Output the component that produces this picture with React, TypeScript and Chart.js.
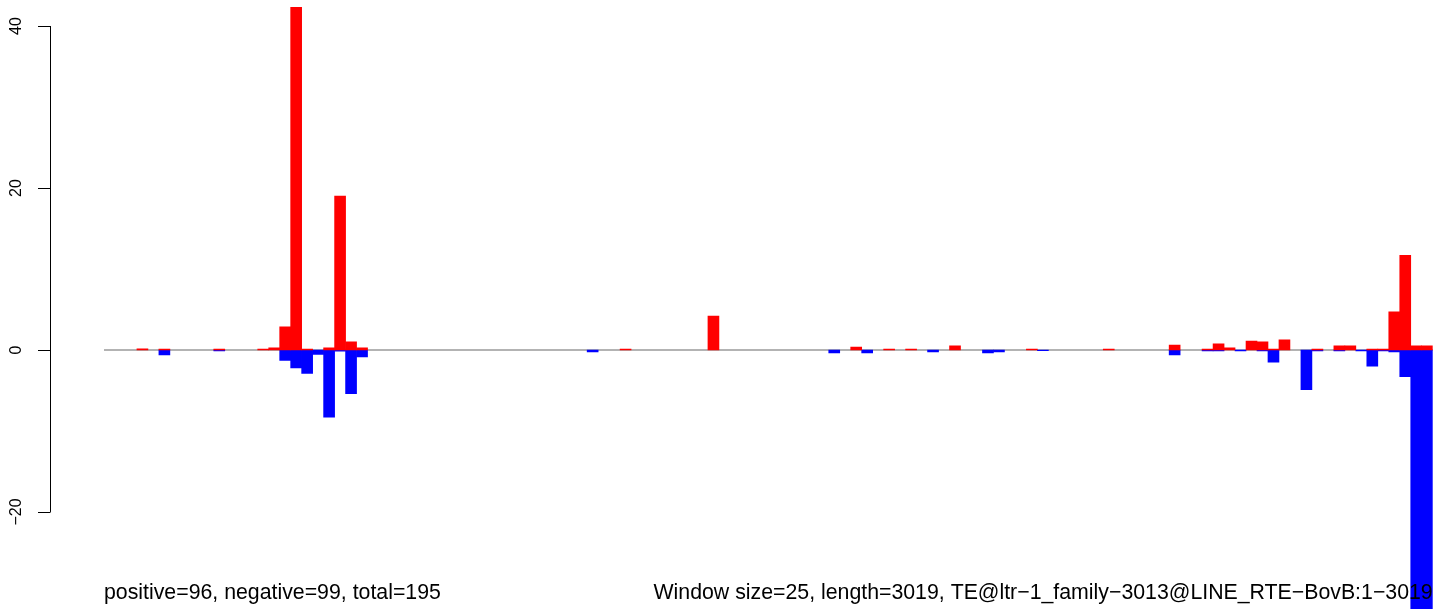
import React, { useEffect, useRef } from "react";
import { Chart, registerables } from "chart.js";

Chart.register(...registerables);

// 121 windows of 25 bp over a 3019 bp sequence
const windowSize = 25;
const seqLength = 3019;
const windowStarts: string[] = Array.from(
  { length: Math.ceil(seqLength / windowSize) },
  (_, i) => String(i * windowSize + 1)
);

// positive (red) signal per window
const positiveValues: number[] = [
  0, 0, 0, 0.15, 0, 0.1, 0, 0, 0, 0,
  0.1, 0, 0, 0, 0.1, 0.25, 2.85, 42.3, 0.1, 0,
  0.25, 19.0, 1.0, 0.25, 0, 0, 0, 0, 0, 0,
  0, 0, 0, 0, 0, 0, 0, 0, 0, 0,
  0, 0, 0, 0, 0, 0, 0, 0.12, 0, 0,
  0, 0, 0, 0, 0, 4.2, 0, 0, 0, 0,
  0, 0, 0, 0, 0, 0, 0, 0, 0.37, 0,
  0, 0.12, 0, 0.1, 0, 0, 0, 0.5, 0, 0,
  0, 0, 0, 0, 0.1, 0, 0, 0, 0, 0,
  0, 0.1, 0, 0, 0, 0, 0, 0.6, 0, 0,
  0.12, 0.75, 0.25, 0, 1.1, 1.0, 0.12, 1.25, 0, 0,
  0.12, 0, 0.5, 0.5, 0, 0.12, 0.12, 4.7, 11.7, 0.5,
  0.5,
];

// negative (blue) signal per window
const negativeValues: number[] = [
  0, 0, 0, 0, 0, -0.6, 0, 0, 0, 0,
  -0.12, 0, 0, 0, 0, 0, -1.3, -2.2, -2.9, -0.55,
  -8.3, -0.15, -5.4, -0.85, 0, 0, 0, 0, 0, 0,
  0, 0, 0, 0, 0, 0, 0, 0, 0, 0,
  0, 0, 0, 0, -0.25, 0, 0, 0, 0, 0,
  0, 0, 0, 0, 0, 0, 0, 0, 0, 0,
  0, 0, 0, 0, 0, 0, -0.37, 0, 0, -0.37,
  0, 0, 0, 0, 0, -0.25, 0, 0, 0, 0,
  -0.37, -0.25, 0, 0, 0, -0.1, 0, 0, 0, 0,
  0, 0, 0, 0, 0, 0, 0, -0.6, 0, 0,
  -0.12, -0.12, 0, -0.12, 0, -0.12, -1.5, 0, 0, -4.9,
  -0.12, 0, -0.12, 0, -0.12, -2.0, -0.12, -0.25, -3.3, -40,
  -40,
];

const yTicks: number[] = [40, 20, 0, -20];
const yMin = -31.98;
const yMax = 43.21;

const leftNote = "positive=96, negative=99, total=195";
const rightNote =
  "Window size=25, length=3019, TE@ltr\u22121_family\u22123013@LINE_RTE\u2212BovB:1\u22123019";

const FONT = "'Liberation Sans', Arial, Helvetica, sans-serif";

// empty windows draw no bar at all
const asBars = (vals: number[]) => vals.map((v) => (v === 0 ? null : v));

const decorPlugin = {
  id: "decor",
  beforeDatasetsDraw(chart: any) {
    const { ctx, chartArea, scales } = chart;
    const y0 = scales.y.getPixelForValue(0);
    ctx.save();
    ctx.strokeStyle = "#9a9a9a";
    ctx.lineWidth = 1.6;
    ctx.beginPath();
    ctx.moveTo(chartArea.left, y0);
    ctx.lineTo(chartArea.right, y0);
    ctx.stroke();
    ctx.restore();
  },
  afterDraw(chart: any) {
    const { ctx, scales, chartArea } = chart;
    const ys = scales.y;
    const axisX = 50.5;
    ctx.save();
    ctx.strokeStyle = "#000";
    ctx.lineWidth = 1;
    const top = ys.getPixelForValue(yTicks[0]);
    const bot = ys.getPixelForValue(yTicks[yTicks.length - 1]);
    ctx.beginPath();
    ctx.moveTo(axisX, top);
    ctx.lineTo(axisX, bot);
    yTicks.forEach((t) => {
      const py = Math.round(ys.getPixelForValue(t)) + 0.5;
      ctx.moveTo(38, py);
      ctx.lineTo(axisX, py);
    });
    ctx.stroke();

    ctx.fillStyle = "#000";
    ctx.font = `16px ${FONT}`;
    ctx.textAlign = "center";
    ctx.textBaseline = "alphabetic";
    yTicks.forEach((t) => {
      const py = ys.getPixelForValue(t);
      ctx.save();
      ctx.translate(21, py);
      ctx.rotate(-Math.PI / 2);
      ctx.fillText(String(t).replace("-", "\u2212"), 0, 0);
      ctx.restore();
    });

    ctx.font = `21.3px ${FONT}`;
    ctx.textAlign = "left";
    ctx.fillText(leftNote, chartArea.left, 599);
    ctx.textAlign = "right";
    ctx.fillText(rightNote, chartArea.right, 599);
    ctx.restore();
  },
};

export default function App() {
  const canvasRef = useRef<HTMLCanvasElement | null>(null);

  useEffect(() => {
    const canvas = canvasRef.current;
    if (!canvas) return;
    const chart = new Chart(canvas, {
      type: "bar",
      data: {
        labels: windowStarts,
        datasets: [
          {
            label: "positive",
            data: asBars(positiveValues),
            backgroundColor: "#FF0000",
            borderWidth: 0,
            barPercentage: 1,
            categoryPercentage: 1,
          },
          {
            label: "negative",
            data: asBars(negativeValues),
            backgroundColor: "#0000FF",
            borderWidth: 0,
            barPercentage: 1,
            categoryPercentage: 1,
          },
        ],
      },
      options: {
        responsive: false,
        animation: false,
        devicePixelRatio: 1,
        layout: { padding: { left: 104, right: 3.3, top: 0, bottom: 0 } },
        plugins: {
          legend: { display: false },
          tooltip: { enabled: false },
          title: { display: false },
        },
        scales: {
          x: { display: false, stacked: true, offset: true, grid: { display: false } },
          y: { display: false, stacked: true, min: yMin, max: yMax, grid: { display: false } },
        },
      },
      plugins: [decorPlugin],
    });
    return () => chart.destroy();
  }, []);

  return (
    <div style={{ position: "absolute", left: 0, top: 0, width: 1436, height: 609, background: "#fff" }}>
      <canvas ref={canvasRef} width={1436} height={609} style={{ display: "block" }} />
    </div>
  );
}
